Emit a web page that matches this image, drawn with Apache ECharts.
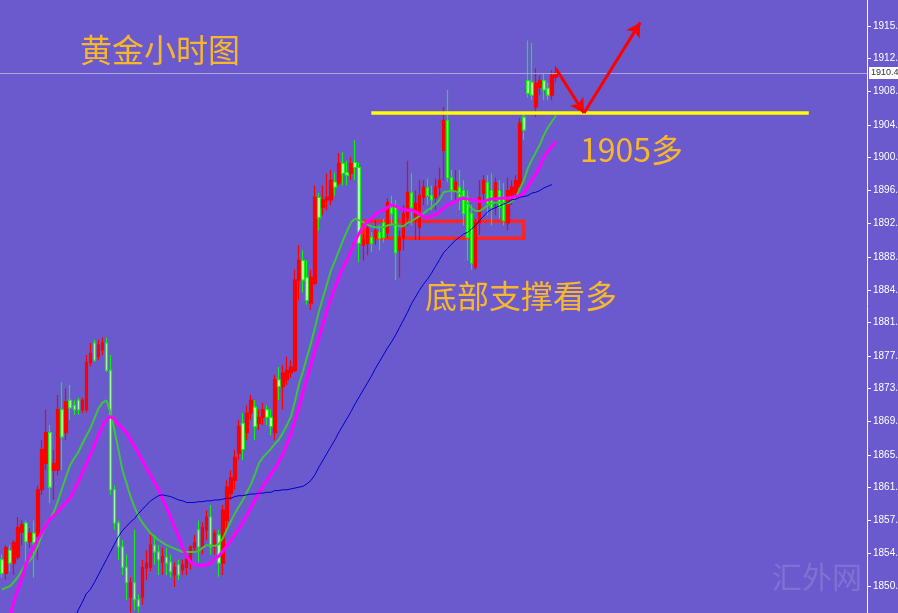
<!DOCTYPE html>
<html>
<head>
<meta charset="utf-8">
<title>黄金小时图</title>
<script src="https://cdn.jsdelivr.net/npm/echarts@6/dist/echarts.min.js"></script>
<style>
  html, body { margin: 0; padding: 0; background: #6a5acd; }
  #chart { width: 898px; height: 613px; }
</style>
</head>
<body>
<div id="chart"></div>
<script>
// 价格刻度 (右侧)
const tickValues = [1850.2, 1854.1, 1857.9, 1861.8, 1865.6, 1869.5, 1873.4, 1877.2, 1881.1,
  1884.9, 1888.8, 1892.8, 1896.6, 1900.5, 1904.3, 1908.2, 1912.1, 1915.9];

// K线 [open, close, low, high]
const candles = [
  [1853.3,1851.7,1851.2,1853.9],[1851.7,1854.7,1850.9,1855.0],[1854.4,1852.9,1851.9,1855.0],[1852.9,1855.3,1851.5,1855.6],[1853.6,1857.1,1853.3,1858.3],
  [1856.5,1857.4,1855.0,1857.9],[1857.6,1855.4,1852.9,1857.9],[1855.4,1856.4,1854.7,1857.0],[1856.4,1855.3,1851.2,1857.9],[1856.0,1861.5,1853.3,1862.0],
  [1861.5,1866.2,1860.9,1867.3],[1864.6,1868.2,1863.8,1870.9],[1868.2,1861.8,1859.9,1869.1],[1863.8,1864.6,1860.3,1866.2],[1863.8,1870.9,1863.2,1872.6],
  [1870.9,1867.7,1863.8,1874.1],[1868.2,1871.8,1867.3,1873.4],[1872.0,1871.1,1869.7,1873.8],[1871.4,1870.9,1870.3,1872.0],[1872.0,1870.9,1870.3,1872.3],
  [1870.9,1872.0,1870.5,1872.3],[1870.9,1876.4,1870.6,1877.3],[1876.4,1877.5,1876.0,1878.7],[1878.7,1876.7,1876.5,1879.1],[1877.1,1878.5,1876.7,1879.1],
  [1877.9,1878.7,1877.3,1879.4],[1878.7,1875.5,1875.3,1879.3],[1875.5,1861.5,1860.9,1877.3],[1861.5,1857.6,1856.8,1862.0],[1857.6,1854.8,1853.3,1857.9],
  [1854.8,1852.4,1851.5,1855.6],[1852.4,1850.6,1848.6,1853.9],[1848.9,1850.6,1847.1,1851.2],[1850.6,1848.6,1847.4,1856.8],[1848.6,1847.8,1847.1,1849.2],
  [1848.9,1852.4,1848.0,1853.3],[1852.3,1852.9,1850.9,1854.4],[1852.4,1855.0,1851.9,1856.4],[1855.0,1854.2,1852.7,1856.2],[1854.2,1853.3,1851.5,1855.0],
  [1853.0,1853.7,1851.5,1854.7],[1853.6,1852.9,1851.5,1854.7],[1853.0,1851.9,1851.2,1853.9],[1851.5,1852.4,1850.1,1853.0],[1852.7,1851.5,1850.9,1853.3],
  [1852.1,1852.7,1851.5,1853.3],[1852.4,1853.3,1851.5,1853.9],[1852.9,1854.8,1852.1,1855.0],[1854.7,1855.3,1854.2,1856.2],[1856.8,1854.8,1853.0,1857.9],
  [1854.8,1857.1,1853.9,1857.7],[1856.8,1858.3,1855.6,1859.1],[1858.3,1854.8,1853.9,1859.7],[1854.8,1856.4,1853.9,1856.8],[1856.2,1852.9,1851.3,1856.8],
  [1852.9,1859.1,1851.5,1859.7],[1857.9,1861.8,1856.8,1862.6],[1861.1,1862.9,1860.3,1863.8],[1862.6,1865.3,1861.5,1866.2],[1865.8,1868.9,1865.0,1869.7],
  [1869.3,1866.2,1865.0,1870.5],[1868.2,1870.5,1867.3,1871.4],[1870.5,1872.0,1869.7,1872.6],[1871.2,1868.9,1867.3,1872.0],[1869.3,1870.0,1868.5,1870.9],
  [1870.0,1870.9,1869.1,1871.7],[1870.9,1870.0,1869.1,1871.4],[1870.0,1868.9,1867.9,1870.9],[1868.2,1874.4,1867.3,1875.0],[1874.4,1873.6,1872.0,1875.9],
  [1873.6,1875.2,1870.9,1876.1],[1874.4,1875.5,1873.8,1877.1],[1875.2,1875.9,1874.6,1876.7],[1875.5,1886.1,1875.3,1887.3],[1886.1,1888.4,1883.7,1890.2],
  [1888.4,1886.1,1884.6,1889.6],[1886.4,1883.7,1883.2,1888.4],[1883.4,1886.4,1882.6,1887.3],[1885.7,1895.8,1885.5,1897.2],[1895.8,1893.4,1891.9,1896.3],
  [1894.6,1895.5,1893.7,1897.2],[1895.5,1895.8,1894.3,1898.6],[1895.5,1897.8,1894.9,1899.0],[1897.6,1897.0,1896.0,1898.7],[1897.5,1899.8,1897.2,1901.0],
  [1899.8,1898.6,1897.2,1901.1],[1898.7,1898.4,1897.2,1900.1],[1898.6,1899.8,1897.8,1900.5],[1899.9,1899.3,1897.8,1902.5],[1899.3,1890.4,1888.2,1899.9],
  [1890.2,1890.8,1888.4,1891.4],[1890.4,1892.2,1889.0,1892.9],[1891.1,1890.4,1889.4,1891.7],[1891.1,1891.9,1890.2,1893.1],[1891.7,1891.0,1889.6,1892.5],
  [1892.8,1891.1,1890.5,1893.3],[1891.6,1895.2,1891.0,1895.7],[1894.6,1893.9,1892.5,1896.0],[1894.6,1889.3,1886.1,1895.5],[1889.6,1891.1,1886.4,1891.9],
  [1891.1,1893.9,1889.6,1894.9],[1893.4,1896.4,1892.5,1900.1],[1896.3,1894.6,1892.5,1898.6],[1893.1,1895.1,1890.8,1896.6],[1892.3,1896.0,1890.8,1897.8],
  [1895.8,1897.0,1894.9,1897.8],[1896.9,1896.0,1894.9,1898.0],[1896.0,1895.5,1894.3,1897.2],[1895.8,1897.0,1894.3,1898.0],[1897.0,1897.8,1896.0,1899.3],
  [1901.3,1904.8,1897.8,1906.4],[1904.8,1898.1,1897.6,1908.4],[1898.1,1896.6,1895.5,1899.0],[1896.6,1897.6,1895.5,1899.0],[1897.0,1895.8,1894.3,1899.0],
  [1896.6,1893.9,1892.5,1897.8],[1895.8,1891.1,1888.4,1896.6],[1893.9,1888.1,1887.3,1894.9],[1887.6,1892.8,1887.3,1893.3],[1892.8,1895.8,1891.4,1897.8],
  [1896.3,1897.8,1895.5,1898.4],[1897.5,1895.1,1893.7,1898.4],[1896.6,1894.6,1892.5,1898.6],[1895.5,1897.5,1893.7,1898.1],[1896.6,1894.6,1893.3,1897.8],
  [1895.8,1893.1,1892.5,1897.5],[1892.8,1896.6,1891.9,1898.1],[1895.8,1897.0,1894.9,1897.8],[1896.3,1897.8,1895.5,1898.4],[1897.0,1904.5,1896.6,1905.1],
  [1905.2,1903.7,1902.5,1905.7],[1909.5,1908.0,1907.5,1914.2],[1909.3,1907.8,1907.2,1913.9],[1906.4,1909.2,1905.2,1910.9],[1908.7,1909.5,1907.8,1910.1],
  [1909.5,1908.4,1907.2,1910.3],[1908.6,1907.8,1907.2,1909.3],[1907.8,1910.1,1907.2,1910.7],[1909.9,1910.4,1909.3,1911.2]
];

// 均线
const maGreen = [
  1849.8,1850.0,1850.2,1850.7,1851.3,1852.1,1852.8,1853.2,1853.9,1855.0,
  1856.3,1857.6,1858.1,1859.0,1860.3,1861.7,1863.1,1864.4,1865.2,1865.9,
  1866.9,1867.8,1868.7,1869.8,1871.0,1871.7,1872.0,1870.6,1868.5,1866.2,
  1863.8,1862.3,1860.7,1859.5,1858.4,1857.6,1857.0,1856.4,1856.0,1855.6,
  1855.3,1855.0,1854.8,1854.6,1854.4,1854.2,1854.2,1854.2,1854.2,1854.3,
  1854.7,1855.0,1855.0,1854.9,1855.1,1855.8,1856.8,1857.8,1858.7,1859.5,
  1860.3,1861.2,1862.1,1863.3,1864.6,1865.3,1865.8,1866.3,1866.9,1867.4,
  1868.2,1869.1,1870.1,1871.9,1873.9,1875.4,1877.1,1878.7,1880.6,1882.5,
  1884.1,1885.7,1887.3,1888.4,1889.6,1890.8,1891.9,1892.9,1893.3,1893.1,
  1892.9,1892.6,1892.4,1892.3,1892.3,1892.3,1892.5,1892.6,1892.6,1892.4,
  1892.4,1892.8,1893.0,1893.3,1893.6,1893.9,1894.3,1894.6,1895.0,1895.5,
  1896.4,1896.5,1896.6,1896.5,1896.3,1895.8,1895.1,1894.5,1894.2,1894.2,
  1894.5,1894.9,1895.1,1895.2,1895.2,1895.1,1895.1,1895.3,1895.8,1896.8,
  1897.8,1899.2,1900.2,1901.1,1902.0,1903.1,1904.0,1904.7,1905.4
];
const maMagenta = [
  1843.3,1845.1,1846.6,1848.5,1849.8,1851.2,1852.8,1853.9,1854.8,1855.7,
  1856.6,1857.4,1858.1,1858.5,1859.0,1859.5,1860.0,1860.5,1861.5,1862.4,
  1863.5,1864.5,1865.6,1866.7,1867.9,1868.9,1869.7,1870.1,1869.8,1869.2,
  1868.7,1868.2,1867.4,1866.6,1865.8,1864.9,1864.0,1863.2,1862.4,1861.5,
  1860.4,1859.4,1858.3,1857.1,1856.0,1854.7,1853.7,1853.0,1852.7,1852.6,
  1852.6,1852.7,1852.9,1853.4,1853.7,1854.3,1854.9,1855.5,1856.2,1856.9,
  1857.7,1858.5,1859.4,1860.3,1861.1,1861.9,1862.6,1863.3,1864.0,1864.8,
  1865.7,1866.9,1868.0,1869.7,1871.2,1873.0,1874.6,1876.2,1877.9,1879.4,
  1881.0,1882.6,1884.0,1885.3,1886.5,1887.6,1888.5,1889.5,1890.7,1891.6,
  1892.4,1892.9,1893.3,1893.8,1894.1,1894.3,1894.6,1894.9,1894.8,1894.5,
  1894.4,1894.3,1894.3,1894.1,1893.8,1893.6,1893.4,1893.6,1893.8,1894.1,
  1894.5,1894.9,1895.1,1895.3,1895.6,1895.7,1895.6,1895.5,1895.5,1895.3,
  1895.3,1895.5,1895.6,1895.6,1895.7,1895.7,1895.7,1895.8,1895.9,1896.0,
  1896.3,1897.0,1897.8,1898.5,1899.4,1900.5,1901.2,1901.8,1902.3
];
const maBlue = [
  null,null,null,null,null,null,null,null,null,null,
  null,null,null,null,null,null,1843.9,1845.2,1846.3,1847.4,
  1848.3,1849.3,1849.8,1850.6,1851.5,1852.4,1853.3,1854.2,1855.1,1856.0,
  1856.7,1857.2,1857.7,1858.1,1858.7,1859.2,1859.7,1860.2,1860.5,1860.8,
  1860.9,1860.8,1860.7,1860.5,1860.3,1860.2,1860.0,1860.0,1860.0,1860.1,
  1860.1,1860.2,1860.2,1860.3,1860.3,1860.4,1860.5,1860.5,1860.7,1860.8,
  1860.8,1860.9,1861.0,1861.0,1861.1,1861.1,1861.2,1861.2,1861.4,1861.4,
  1861.5,1861.5,1861.6,1861.7,1861.8,1861.9,1862.2,1862.6,1863.3,1864.2,
  1865.0,1865.8,1866.6,1867.4,1868.3,1869.1,1869.9,1870.7,1871.6,1872.4,
  1873.2,1874.0,1874.8,1875.7,1876.5,1877.3,1878.1,1878.8,1879.6,1880.5,
  1881.4,1882.3,1883.3,1884.1,1884.9,1885.6,1886.2,1886.9,1887.7,1888.5,
  1889.3,1889.8,1890.3,1890.8,1891.1,1891.5,1891.7,1892.1,1892.5,1893.1,
  1893.6,1894.1,1894.4,1894.6,1894.8,1895.0,1895.2,1895.5,1895.6,1895.8,
  1895.9,1896.0,1896.3,1896.4,1896.6,1896.9,1897.1,1897.3,null
];

const lastPrice = 1910.4;      // 当前价
const supportLevel = 1905.7;   // 黄线 (1905多)
const supportSpan = [92, 201]; // 黄线起止K线位置
const arrowPath = [[138, 1910.9], [145, 1905.7], [159, 1916.3]]; // 红色箭头折线
const boxRange = { from: 90, to: 130, top: 1893.0, bottom: 1891.0 }; // 底部支撑框

// 横轴位置: 右侧留白, 共 216 根K线位
const slotCount = 216;
const slots = Array.from({ length: slotCount }, (_, i) => String(i + 1));

const cjk = '"Noto Sans CJK SC", "Noto Sans", sans-serif';
const noteColor = '#f8b62d';

const chart = echarts.init(document.getElementById('chart'));

const redLine = { color: '#ff0000', width: 3, type: 'solid' };

const option = {
  backgroundColor: '#6a5acd',
  animation: false,
  // 不让刻度文字把绘图区挤小 (原图右侧文字被截断)
  grid: { left: 0, right: 31, top: 0, bottom: 0, containLabel: false, outerBoundsMode: 'none' },
  xAxis: {
    type: 'category',
    data: slots,
    boundaryGap: true,
    show: false
  },
  yAxis: {
    type: 'value',
    position: 'right',
    min: 1847.04,
    max: 1918.95,
    splitLine: { show: false },
    axisLine: { show: true, lineStyle: { color: '#ffffff', width: 1 } },
    axisTick: { show: true, length: 4, customValues: tickValues, lineStyle: { color: '#ffffff' } },
    axisLabel: {
      customValues: tickValues,
      color: '#ffffff',
      fontSize: 10,
      fontFamily: 'Liberation Sans',
      margin: 6,
      formatter: (v) => v.toFixed(1)
    }
  },
  series: [
    {
      type: 'candlestick',
      data: candles,
      barWidth: 3,
      itemStyle: {
        color: '#ff0000',        // 阳线 红
        color0: '#c4ffb8',       // 阴线 浅绿芯
        borderColor: '#ff0000',
        borderColor0: '#10f010',
        borderWidth: 1.2
      },
      markLine: {
        silent: true,
        animation: false,
        symbol: ['none', 'none'],
        label: { show: false },
        data: [
          {
            yAxis: lastPrice,
            lineStyle: { color: '#aca6d8', width: 1, type: 'solid' },
            label: {
              show: true,
              position: 'end',
              distance: 2,
              formatter: lastPrice.toFixed(1),
              backgroundColor: '#ffffff',
              color: '#333333',
              fontSize: 9,
              fontFamily: 'Liberation Sans',
              padding: [2, 3, 1, 2]
            }
          },
          [
            { coord: [supportSpan[0], supportLevel], lineStyle: { color: '#ffff00', width: 3.5, type: 'solid' } },
            { coord: [supportSpan[1], supportLevel] }
          ],
          [
            { coord: arrowPath[0], lineStyle: redLine },
            { coord: arrowPath[1], symbol: 'arrow', symbolSize: [12, 14] }
          ],
          [
            { coord: arrowPath[1], lineStyle: redLine },
            { coord: arrowPath[2], symbol: 'arrow', symbolSize: [12, 14] }
          ]
        ]
      },
      markArea: {
        silent: true,
        label: { show: false },
        itemStyle: { color: 'rgba(0,0,0,0)', borderColor: '#ff2424', borderWidth: 3.5 },
        data: [[
          { coord: [boxRange.from, boxRange.top] },
          { coord: [boxRange.to, boxRange.bottom] }
        ]]
      }
    },
    {
      name: 'MA-green',
      type: 'line',
      data: maGreen,
      showSymbol: false,
      silent: true,
      lineStyle: { color: '#3dc43d', width: 2 }
    },
    {
      name: 'MA-magenta',
      type: 'line',
      data: maMagenta,
      showSymbol: false,
      silent: true,
      lineStyle: { color: '#ff00ff', width: 3 }
    },
    {
      name: 'MA-blue',
      type: 'line',
      data: maBlue,
      showSymbol: false,
      silent: true,
      lineStyle: { color: '#0000cc', width: 1 }
    }
  ],
  graphic: [
    { type: 'text', left: 80, top: 34, style: { text: '黄金小时图', fill: noteColor, font: '32px ' + cjk } },
    { type: 'text', left: 580, top: 134, style: { text: '1905多', fill: noteColor, font: '32px ' + cjk } },
    { type: 'text', left: 425, top: 280, style: { text: '底部支撑看多', fill: noteColor, font: '32px ' + cjk } },
    // 水印
    { type: 'text', left: 772, top: 562, style: { text: '汇外网', fill: 'rgba(255,255,255,0.14)', font: '30px ' + cjk } }
  ]
};

chart.setOption(option);
</script>
</body>
</html>
